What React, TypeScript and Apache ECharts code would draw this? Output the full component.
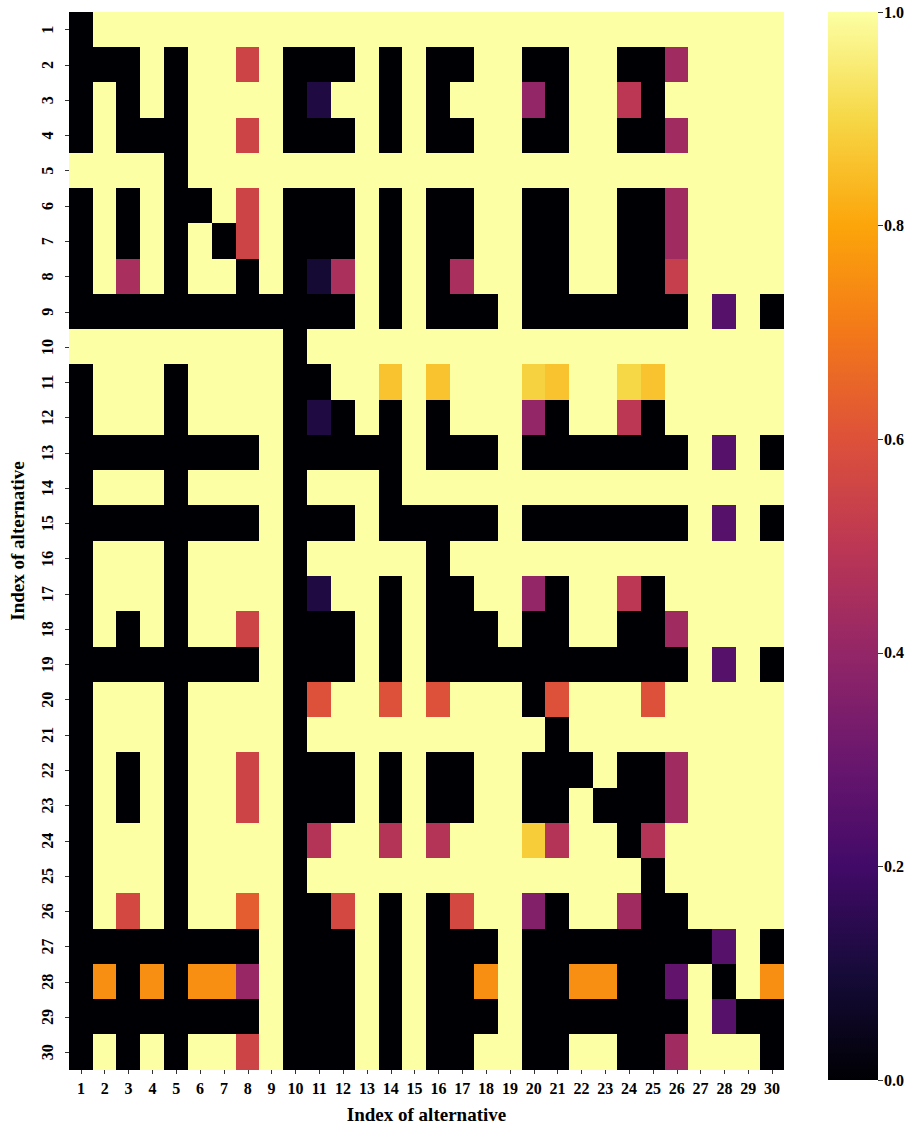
import React, { useEffect, useRef } from "react";
import * as echarts from "echarts";

const colLabels = Array.from({ length: 30 }, (_, i) => String(i + 1));
const rowLabels = Array.from({ length: 30 }, (_, i) => String(i + 1));
const cbTicks = [0, 0.2, 0.4, 0.6, 0.8, 1.0];

// inferno colormap stops (0 → 1)
const inferno = [
  "#000004", "#160b39", "#420a68", "#6a176e", "#932667", "#bc3754",
  "#dd513a", "#f37819", "#fca50a", "#f6d746", "#fcffa4",
];

// Matrix of values: rows 1..30 (top to bottom), columns 1..30 (left to right)
const matrix: number[][] = [
  [0,1,1,1,1,1,1,1,1,1,1,1,1,1,1,1,1,1,1,1,1,1,1,1,1,1,1,1,1,1],
  [0,0,0,1,0,1,1,.55,1,0,0,0,1,0,1,0,0,1,1,0,0,1,1,0,0,.43,1,1,1,1],
  [0,1,0,1,0,1,1,1,1,0,.12,1,1,0,1,0,1,1,1,.4,0,1,1,.5,0,1,1,1,1,1],
  [0,1,0,0,0,1,1,.55,1,0,0,0,1,0,1,0,0,1,1,0,0,1,1,0,0,.43,1,1,1,1],
  [1,1,1,1,0,1,1,1,1,1,1,1,1,1,1,1,1,1,1,1,1,1,1,1,1,1,1,1,1,1],
  [0,1,0,1,0,0,1,.55,1,0,0,0,1,0,1,0,0,1,1,0,0,1,1,0,0,.43,1,1,1,1],
  [0,1,0,1,0,1,0,.55,1,0,0,0,1,0,1,0,0,1,1,0,0,1,1,0,0,.43,1,1,1,1],
  [0,1,.45,1,0,1,1,0,1,0,.09,.46,1,0,1,0,.45,1,1,0,0,1,1,0,0,.53,1,1,1,1],
  [0,0,0,0,0,0,0,0,0,0,0,0,1,0,1,0,0,0,1,0,0,0,0,0,0,0,1,.25,1,0],
  [1,1,1,1,1,1,1,1,1,0,1,1,1,1,1,1,1,1,1,1,1,1,1,1,1,1,1,1,1,1],
  [0,1,1,1,0,1,1,1,1,0,0,1,1,.86,1,.86,1,1,1,.89,.86,1,1,.9,.86,1,1,1,1,1],
  [0,1,1,1,0,1,1,1,1,0,.12,0,1,0,1,0,1,1,1,.4,0,1,1,.5,0,1,1,1,1,1],
  [0,0,0,0,0,0,0,0,1,0,0,0,0,0,1,0,0,0,1,0,0,0,0,0,0,0,1,.25,1,0],
  [0,1,1,1,0,1,1,1,1,0,1,1,1,0,1,1,1,1,1,1,1,1,1,1,1,1,1,1,1,1],
  [0,0,0,0,0,0,0,0,1,0,0,0,1,0,0,0,0,0,1,0,0,0,0,0,0,0,1,.25,1,0],
  [0,1,1,1,0,1,1,1,1,0,1,1,1,1,1,0,1,1,1,1,1,1,1,1,1,1,1,1,1,1],
  [0,1,1,1,0,1,1,1,1,0,.12,1,1,0,1,0,0,1,1,.4,0,1,1,.5,0,1,1,1,1,1],
  [0,1,0,1,0,1,1,.55,1,0,0,0,1,0,1,0,0,0,1,0,0,1,1,0,0,.43,1,1,1,1],
  [0,0,0,0,0,0,0,0,1,0,0,0,1,0,1,0,0,0,0,0,0,0,0,0,0,0,1,.25,1,0],
  [0,1,1,1,0,1,1,1,1,0,.6,1,1,.6,1,.6,1,1,1,0,.6,1,1,1,.6,1,1,1,1,1],
  [0,1,1,1,0,1,1,1,1,0,1,1,1,1,1,1,1,1,1,1,0,1,1,1,1,1,1,1,1,1],
  [0,1,0,1,0,1,1,.55,1,0,0,0,1,0,1,0,0,1,1,0,0,0,1,0,0,.43,1,1,1,1],
  [0,1,0,1,0,1,1,.55,1,0,0,0,1,0,1,0,0,1,1,0,0,1,0,0,0,.43,1,1,1,1],
  [0,1,1,1,0,1,1,1,1,0,.48,1,1,.48,1,.48,1,1,1,.88,.48,1,1,0,.48,1,1,1,1,1],
  [0,1,1,1,0,1,1,1,1,0,1,1,1,1,1,1,1,1,1,1,1,1,1,1,0,1,1,1,1,1],
  [0,1,.57,1,0,1,1,.63,1,0,0,.57,1,0,1,0,.57,1,1,.36,0,1,1,.43,0,0,1,1,1,1],
  [0,0,0,0,0,0,0,0,1,0,0,0,1,0,1,0,0,0,1,0,0,0,0,0,0,0,0,.25,1,0],
  [0,.75,0,.75,0,.75,.75,.41,1,0,0,0,1,0,1,0,0,.75,1,0,0,.75,.75,0,0,.28,1,0,1,.75],
  [0,0,0,0,0,0,0,0,1,0,0,0,1,0,1,0,0,0,1,0,0,0,0,0,0,0,1,.25,0,0],
  [0,1,0,1,0,1,1,.55,1,0,0,0,1,0,1,0,0,1,1,0,0,1,1,0,0,.43,1,1,1,0],
];

const FONT = "'Liberation Serif', 'Times New Roman', serif";

export default function App() {
  const ref = useRef<HTMLDivElement>(null);
  useEffect(() => {
    document.body.style.margin = "0";
    if (!ref.current) return;
    const chart = echarts.init(ref.current, undefined, { renderer: "svg" });
    const data: [number, number, number][] = [];
    matrix.forEach((row, r) => row.forEach((v, c) => data.push([c, r, v])));
    const labelStyle = {
      color: "#000",
      fontFamily: FONT,
      fontWeight: "bold" as const,
      fontSize: 16,
    };
    chart.setOption({
      animation: false,
      backgroundColor: "#fff",
      grid: [
        { left: 61, right: 139, top: 12, bottom: 49 },
        { left: 828, width: 50, top: 12, bottom: 49 },
      ],
      xAxis: [
        {
          type: "category",
          data: colLabels,
          gridIndex: 0,
          position: "bottom",
          axisLine: { show: false },
          axisTick: { show: true, alignWithLabel: true, length: 4, lineStyle: { color: "#333" } },
          axisLabel: { ...labelStyle, margin: 10, interval: 0 },
          splitLine: { show: false },
          name: "Index of alternative",
          nameLocation: "middle",
          nameGap: 35,
          nameTextStyle: { ...labelStyle, fontSize: 19 },
        },
        {
          type: "category",
          data: ["cb"],
          gridIndex: 1,
          show: false,
        },
      ],
      yAxis: [
        {
          type: "category",
          data: rowLabels,
          gridIndex: 0,
          inverse: true,
          axisLine: { show: false },
          axisTick: { show: true, alignWithLabel: true, length: 4, lineStyle: { color: "#333" } },
          axisLabel: { ...labelStyle, rotate: 90, margin: 14, interval: 0 },
          splitLine: { show: false },
          name: "Index of alternative",
          nameLocation: "middle",
          nameRotate: 90,
          nameGap: 42,
          nameTextStyle: { ...labelStyle, fontSize: 19 },
        },
        {
          type: "value",
          gridIndex: 1,
          position: "right",
          min: 0,
          max: 1,
          interval: 0.2,
          axisLine: { show: false },
          axisTick: { show: true, length: 5, lineStyle: { color: "#333" } },
          axisLabel: {
            ...labelStyle,
            margin: 6,
            formatter: (v: number) => v.toFixed(1),
          },
          splitLine: { show: false },
          data: cbTicks,
        },
      ],
      visualMap: {
        type: "continuous",
        show: false,
        min: 0,
        max: 1,
        seriesIndex: 0,
        inRange: { color: inferno },
      },
      series: [
        {
          type: "heatmap",
          xAxisIndex: 0,
          yAxisIndex: 0,
          data,
          itemStyle: { borderWidth: 0 },
          emphasis: { disabled: true },
        },
        {
          type: "bar",
          xAxisIndex: 1,
          yAxisIndex: 1,
          data: [1],
          barWidth: "100%",
          silent: true,
          itemStyle: {
            color: new echarts.graphic.LinearGradient(
              0, 1, 0, 0,
              inferno.map((c, i) => ({ offset: i / (inferno.length - 1), color: c }))
            ),
          },
        },
      ],
    });
    const svg = ref.current.querySelector("svg");
    if (svg) svg.style.shapeRendering = "crispEdges";
    return () => chart.dispose();
  }, []);
  return <div ref={ref} style={{ width: 923, height: 1129 }} />;
}
